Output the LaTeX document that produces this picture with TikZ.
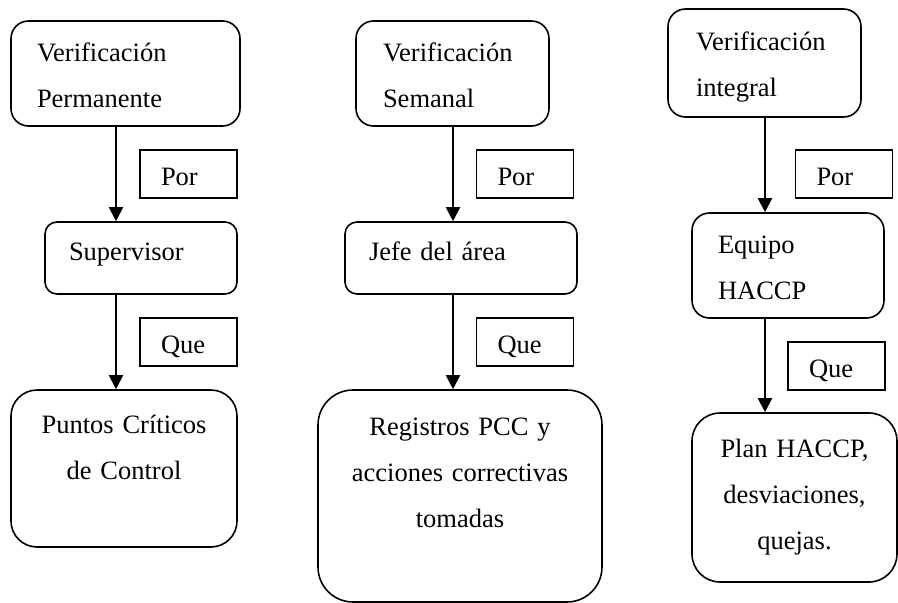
\documentclass[tikz,border=0pt]{standalone}
\usepackage{fontspec}
\setmainfont{Liberation Serif}
\usetikzlibrary{arrows.meta}

\begin{document}
\begin{tikzpicture}[x=1pt, y=-1pt, >={Triangle[length=14pt,width=14pt]},
  rbox/.style={draw, line width=1.6pt, inner ysep=0pt,
    font=\fontsize{26.5}{46}\selectfont},
  tag/.style={draw, line width=1.4pt, inner ysep=0pt, inner xsep=21pt,
    text width=55pt, align=left, text height=35pt, text depth=13pt,
    font=\fontsize{26.5}{46}\selectfont},
  flow/.style={->, line width=2pt}]
  \useasboundingbox (0,0) rectangle (898,603);

  % first column
  \node[rbox, align=left, rounded corners=17.5pt, inner xsep=26pt, text width=177pt,
    text height=40pt, text depth=65pt] (perm) at (125.5,73.5) {Verificación\\Permanente};
  \node[rbox, align=left, rounded corners=12pt, inner xsep=24pt, text width=144pt,
    text height=38pt, text depth=34pt] (sup) at (141,258) {Supervisor};
  \node[rbox, align=center, rounded corners=26pt, inner xsep=10pt, text width=206pt,
    text height=43pt, text depth=114pt] (ptos) at (124,468.5) {Puntos Críticos\\de Control};
  \node[tag] (por1) at (188.5,174) {Por};
  \node[tag] (que1) at (188.5,342) {Que};

  % second column
  \node[rbox, align=left, rounded corners=17.5pt, inner xsep=27pt, text width=139pt,
    text height=40pt, text depth=65pt] (sem) at (452.5,73.5) {Verificación\\Semanal};
  \node[rbox, align=left, rounded corners=12pt, inner xsep=24pt, text width=184pt,
    text height=38pt, text depth=34pt] (jefe) at (461,258) {Jefe del área};
  \node[rbox, align=center, rounded corners=35pt, inner xsep=10pt, text width=264pt,
    text height=45pt, text depth=167pt] (regs) at (460,496) {Registros PCC y\\acciones correctivas\\tomadas};
  \node[tag] (por2) at (525,174) {Por};
  \node[tag] (que2) at (525,342) {Que};

  % third column
  \node[rbox, align=left, rounded corners=17.5pt, inner xsep=28pt, text width=137pt,
    text height=41pt, text depth=67pt] (integ) at (764.5,63) {Verificación\\integral};
  \node[rbox, align=left, rounded corners=17.5pt, inner xsep=26pt, text width=140pt,
    text height=40pt, text depth=65pt] (equipo) at (788,265.5) {Equipo\\HACCP};
  \node[rbox, align=center, rounded corners=28pt, inner xsep=10pt, text width=185pt,
    text height=44pt, text depth=125pt] (plan) at (794.5,497.5) {Plan HACCP,\\desviaciones,\\quejas.};
  \node[tag] (por3) at (844,174) {Por};
  \node[tag] (que3) at (836.5,366) {Que};

  % arrows
  \coordinate (c1) at (116,0);
  \coordinate (c2) at (453,0);
  \coordinate (c3) at (765,0);
  \draw[flow] (perm.south -| c1) -- (sup.north -| c1);
  \draw[flow] (sup.south -| c1) -- (ptos.north -| c1);
  \draw[flow] (sem.south -| c2) -- (jefe.north -| c2);
  \draw[flow] (jefe.south -| c2) -- (regs.north -| c2);
  \draw[flow] (integ.south -| c3) -- (equipo.north -| c3);
  \draw[flow] (equipo.south -| c3) -- (plan.north -| c3);
\end{tikzpicture}
\end{document}
